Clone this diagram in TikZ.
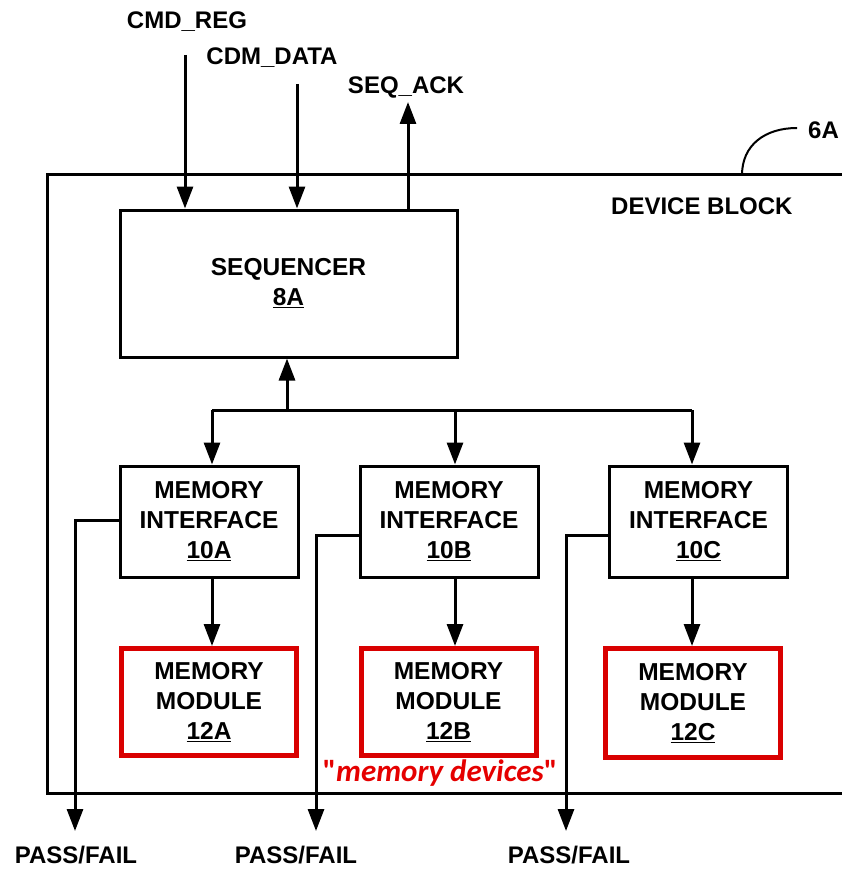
\documentclass[tikz,border=0pt]{standalone}
\usepackage{fontspec}
\setmainfont{Liberation Sans}
\newfontfamily\redfont{Carlito}
\usetikzlibrary{arrows.meta}
\tikzset{
  blk/.style={draw=black, line width=3pt, rectangle, inner sep=0pt, align=center,
    font=\fontsize{24.5}{30}\selectfont\bfseries},
  modbox/.style={draw=red!85!black, line width=5pt, rectangle, inner sep=0pt, align=center,
    font=\fontsize{24.5}{30}\selectfont\bfseries},
  lbl/.style={inner sep=0pt, font=\fontsize{24}{28}\selectfont\bfseries},
  wire/.style={line width=3pt},
  arr/.style={line width=3pt, -{Triangle[length=22pt,width=16pt]}},
}
\begin{document}
\begin{tikzpicture}[x=1pt,y=-1pt]
\useasboundingbox (0,0) rectangle (842,869);
\fill[white] (0,0) rectangle (842,869);
% device block
\draw[line width=3pt] (850,175) -- (47,175) -- (47,793) -- (850,793);
\node[lbl, anchor=west] (dbl) at (611,206) {DEVICE BLOCK};
\node[lbl, anchor=west] (sixa) at (808,130) {6A};
\coordinate (lead) at (742,175);
\coordinate (leadend) at (797,128);
\draw[line width=2pt] (lead) .. controls (742,145) and (765,128) .. (leadend);
% sequencer
\node[blk, minimum width=337pt, minimum height=147pt, font=\fontsize{24.5}{28}\selectfont\bfseries] (seq) at (288.5,283.5) {SEQUENCER\\[2pt]\underline{8A}};
% inputs
\node[lbl] (cmdreg) at (187,22) {CMD\_REG};
\node[lbl] (cdmdata) at (272,58) {CDM\_DATA};
\node[lbl] (seqack) at (406,87) {SEQ\_ACK};
\coordinate (cr) at (185,55);
\coordinate (cd) at (297,84);
\coordinate (sa) at (408,102);
\draw[arr] (cr) -- (cr |- seq.north);
\draw[arr] (cd) -- (cd |- seq.north);
\draw[arr] (sa |- seq.north) -- (sa);
% interfaces
\node[blk, minimum width=178pt, minimum height=111pt] (ifA) at (209,521.5) {MEMORY\\INTERFACE\\\underline{10A}};
\node[blk, minimum width=178pt, minimum height=111pt] (ifB) at (449,521.5) {MEMORY\\INTERFACE\\\underline{10B}};
\node[blk, minimum width=178pt, minimum height=111pt] (ifC) at (698.5,521.5) {MEMORY\\INTERFACE\\\underline{10C}};
% bus
\coordinate (busS) at (287,410);
\coordinate (busA) at (212,410);
\coordinate (busB) at (455,410);
\coordinate (busC) at (692,410);
\draw[wire] (busA) -- (busC);
\draw[arr] (busS) -- (busS |- seq.south);
\draw[arr] (busA) -- (busA |- ifA.north);
\draw[arr] (busB) -- (busB |- ifB.north);
\draw[arr] (busC) -- (busC |- ifC.north);
% modules
\node[modbox, minimum width=175pt, minimum height=107pt] (mA) at (209,702) {MEMORY\\MODULE\\\underline{12A}};
\node[modbox, minimum width=175pt, minimum height=107pt] (mB) at (448.5,702) {MEMORY\\MODULE\\\underline{12B}};
\node[modbox, minimum width=175pt, minimum height=109pt] (mC) at (693,703) {MEMORY\\MODULE\\\underline{12C}};
\draw[arr] (ifA.south -| busA) -- (busA |- mA.north);
\draw[arr] (ifB.south -| busB) -- (busB |- mB.north);
\draw[arr] (ifC.south -| busC) -- (busC |- mC.north);
% pass/fail
\node[lbl, anchor=base] (pfA) at (76,863) {PASS/FAIL};
\node[lbl, anchor=base] (pfB) at (296,863) {PASS/FAIL};
\node[lbl, anchor=base] (pfC) at (569,863) {PASS/FAIL};
\coordinate (tA) at (75,520);
\coordinate (tB) at (316,535);
\coordinate (tC) at (566,535);
\draw[arr] (ifA.west |- tA) -- (tA) -- (75,831);
\draw[arr] (ifB.west |- tB) -- (tB) -- (316,831);
\draw[arr] (ifC.west |- tC) -- (tC) -- (566,831);
% memory devices label
\node[inner sep=0pt, text=red!90!black, font=\redfont\fontsize{31}{34}\selectfont\bfseries] (md) at (440,773) {"\textit{memory devices}"};
\end{tikzpicture}
\end{document}
